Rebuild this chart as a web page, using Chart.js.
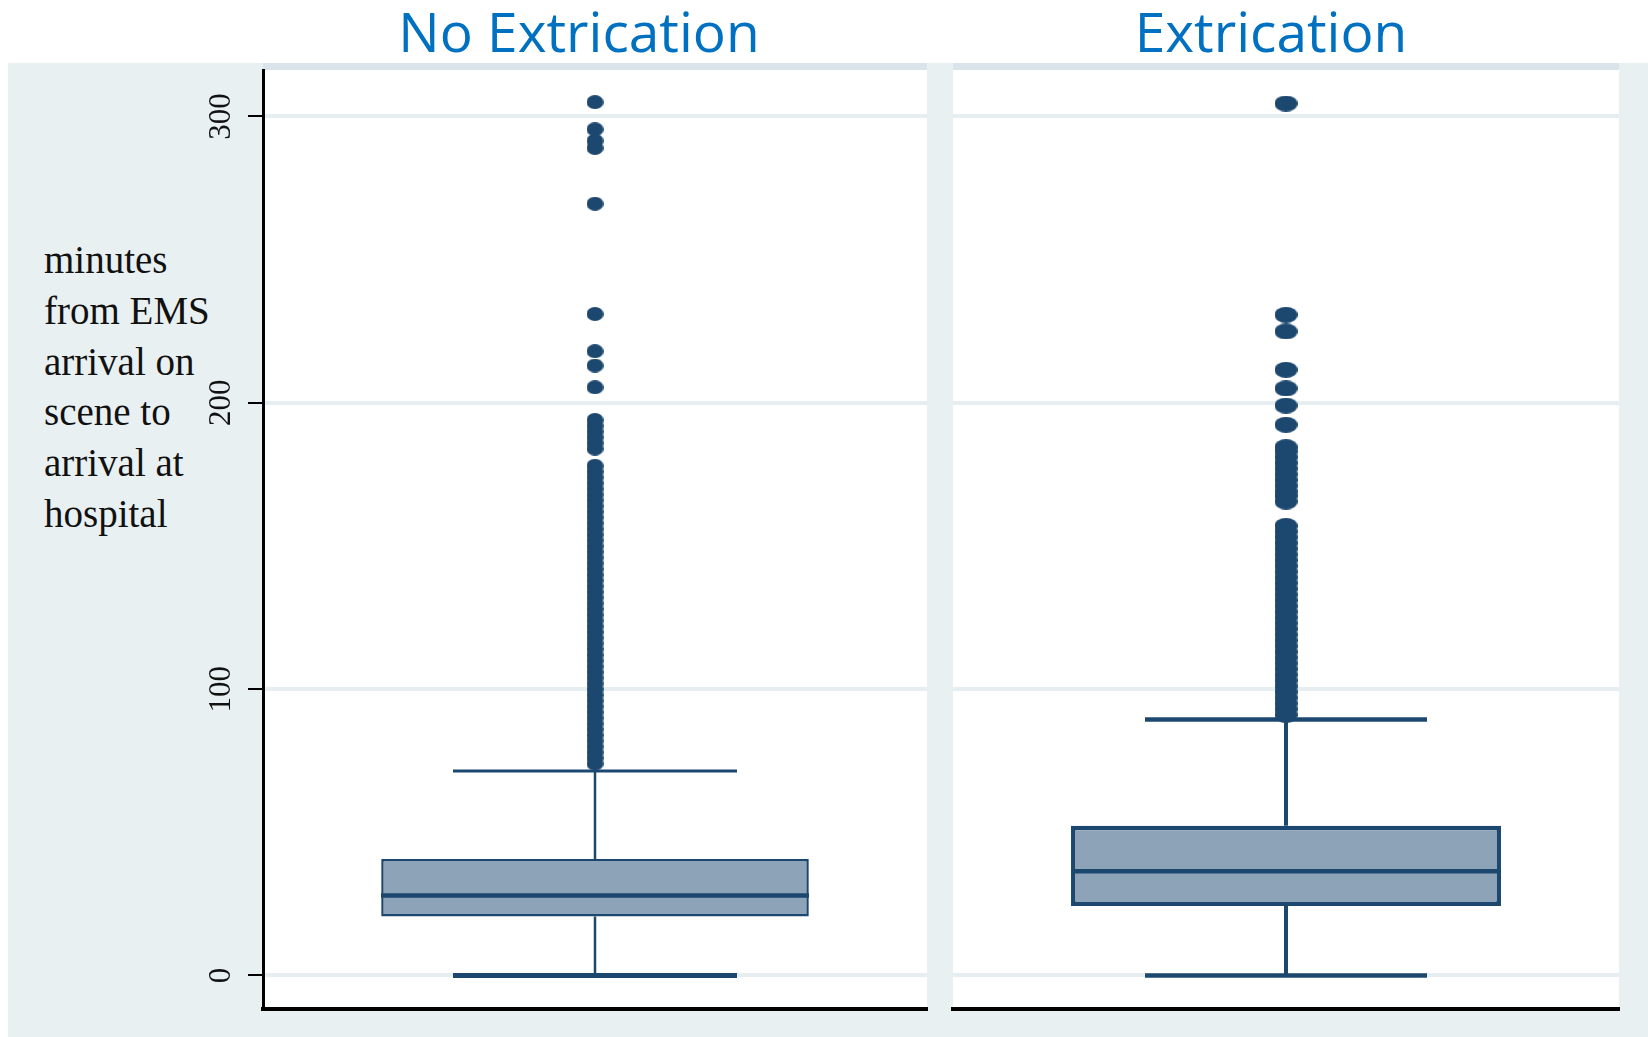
<!DOCTYPE html>
<html><head><meta charset="utf-8">
<script src="https://cdn.jsdelivr.net/npm/chart.js@4.4.1/dist/chart.umd.min.js"></script>
<style>
html,body{margin:0;padding:0;background:#fff;width:1648px;height:1037px;overflow:hidden;position:relative;}
#bg{position:absolute;left:8px;top:63px;width:1640px;height:974px;background:#e9f0f2;}
canvas{position:absolute;top:0;}
#c1{left:0;} #c2{left:940px;}
.ttl{position:absolute;top:3px;width:600px;text-align:center;font-family:'Open Sans';font-size:55px;line-height:55px;color:#0070c0;white-space:nowrap;}
#ylab{position:absolute;left:44px;top:235px;font-family:'Liberation Serif';font-size:39px;line-height:50.8px;color:#111;white-space:nowrap;}
</style></head><body>
<div id="bg"></div>
<div class="ttl" id="t1" style="left:279px"></div>
<div class="ttl" id="t2" style="left:971px"></div>
<div id="ylab"></div>
<canvas id="c1" width="940" height="1037"></canvas>
<canvas id="c2" width="708" height="1037"></canvas>
<script>
// ---- data ----
const groups = ['No Extrication', 'Extrication'];
const lowerWhisker = [0, 0];
const q1 = [20.6, 24.3];
const median = [27.9, 36.4];
const q3 = [40.7, 52.3];
const upperWhisker = [71.4, 89.4];
const outliersNoExtrication = [305, 295.5, 291.5, 289, 269.5, 231, 218, 213, 205.4,
  194, 192, 190, 188, 186, 184,
  178, 176, 174, 172, 170, 168, 166, 164, 162, 160, 158, 156, 154, 152, 150, 148, 146, 144, 142, 140,
  138, 136, 134, 132, 130, 128, 126, 124, 122, 120, 118, 116, 114, 112, 110, 108, 106, 104, 102, 100,
  98, 96, 94, 92, 90, 88, 86, 84, 82, 80, 78, 76, 74];
const outliersExtrication = [304.5, 230.7, 224.9, 211.5, 205, 199, 192.3,
  184.5, 183, 181, 179, 177, 175, 173, 171, 169, 167.5, 165.5,
  157, 155, 153, 151, 149, 147, 145, 143, 141, 139, 137, 135, 133, 131, 129, 127, 125, 123,
  121, 119, 117, 115, 113, 111, 109, 107, 105, 103, 101, 99, 97, 95, 93, 91];
const yTicks = [0, 100, 200, 300];
const yTitleLines = ['minutes', 'from EMS', 'arrival on', 'scene to', 'arrival at', 'hospital'];

// ---- text ----
document.getElementById('t1').textContent = groups[0];
document.getElementById('t2').textContent = groups[1];
document.getElementById('ylab').innerHTML = yTitleLines.join('<br>');

const DARK = '#1c4870';
const FILL = '#8da3b7';

function ellipseMarker(w, h) {
  const c = document.createElement('canvas');
  c.width = w; c.height = h;
  const g = c.getContext('2d');
  g.fillStyle = DARK;
  g.beginPath();
  g.ellipse(w / 2, h / 2, w / 2, h / 2, 0, 0, Math.PI * 2);
  g.fill();
  return c;
}

const panelBg = {
  id: 'panelBg',
  beforeDraw(chart) {
    const {ctx, chartArea: a} = chart;
    ctx.save();
    ctx.fillStyle = '#d9e5eb';
    ctx.fillRect(a.left, a.top - 7, a.right - a.left, 7);
    ctx.fillStyle = '#ffffff';
    ctx.fillRect(a.left, a.top, a.right - a.left, a.bottom - a.top);
    ctx.restore();
  }
};

function makePanel(id, i, outliers, st) {
  const label = groups[i];
  const pt = v => ({x: label, y: v});
  return new Chart(document.getElementById(id), {
    type: 'bar',
    data: {
      labels: [label],
      datasets: [
        {type: 'line', label: 'outliers', data: outliers.map(pt), showLine: false,
         pointStyle: st.marker, pointRadius: 8, order: 0},
        {type: 'line', label: 'median', data: [pt(median[i])], showLine: false, pointStyle: 'line',
         pointRadius: st.boxHalf, pointBorderWidth: st.medianW, pointBorderColor: DARK, order: 1},
        {type: 'line', label: 'upper adjacent', data: [pt(upperWhisker[i])], showLine: false, pointStyle: 'line',
         pointRadius: st.capHalf, pointBorderWidth: st.upCapW, pointBorderColor: DARK, order: 2},
        {type: 'line', label: 'lower adjacent', data: [pt(lowerWhisker[i])], showLine: false, pointStyle: 'line',
         pointRadius: st.capHalf, pointBorderWidth: st.lowCapW, pointBorderColor: DARK, order: 2},
        {type: 'line', label: 'upper whisker', data: [pt(q3[i]), pt(upperWhisker[i])],
         borderColor: DARK, borderWidth: st.whiskerW, pointRadius: 0, order: 3},
        {type: 'line', label: 'lower whisker', data: [pt(lowerWhisker[i]), pt(q1[i])],
         borderColor: DARK, borderWidth: st.whiskerW, pointRadius: 0, order: 3},
        {type: 'bar', label: 'box', data: [[q1[i], q3[i]]], backgroundColor: FILL, borderColor: DARK,
         borderWidth: st.boxW, borderSkipped: false, barPercentage: st.barPct, categoryPercentage: 1, order: 5}
      ]
    },
    options: {
      responsive: false, animation: false, events: [],
      layout: {autoPadding: false, padding: {left: 0, right: st.padR, top: 70, bottom: 0}},
      plugins: {legend: {display: false}, tooltip: {enabled: false}, title: {display: false}},
      scales: {
        x: {type: 'category', offset: true,
            grid: {display: false, drawTicks: false},
            border: {display: true, color: '#000', width: 4},
            ticks: {display: false},
            afterFit(s) { s.height = 28; }},
        y: {type: 'linear', min: -11.7, max: 316.2,
            afterBuildTicks(s) { s.ticks = yTicks.map(v => ({value: v})); },
            afterFit(s) { s.width = st.yW; },
            grid: {color: '#e6eef1', lineWidth: 4, drawTicks: st.showAxis, tickLength: st.showAxis ? 15 : 0,
                   tickColor: '#000', tickWidth: 2},
            border: {display: st.showAxis, color: '#000', width: 3},
            ticks: {display: st.showAxis, minRotation: 90, maxRotation: 90, crossAlign: 'center', padding: 3,
                    font: {family: 'Liberation Serif', size: 31}, color: '#111'}}
      }
    },
    plugins: [panelBg]
  });
}

makePanel('c1', 0, outliersNoExtrication, {
  marker: ellipseMarker(17, 14), boxHalf: 214, capHalf: 142, medianW: 4.5, upCapW: 3, lowCapW: 5,
  whiskerW: 2.5, boxW: 2.5, barPct: 0.644, padR: 13, yW: 263, showAxis: true
});
makePanel('c2', 1, outliersExtrication, {
  marker: ellipseMarker(23, 16), boxHalf: 215, capHalf: 141, medianW: 4.5, upCapW: 4.5, lowCapW: 4.5,
  whiskerW: 4, boxW: 4.5, barPct: 0.6456, padR: 29, yW: 13, showAxis: false
});
</script>
</body></html>
